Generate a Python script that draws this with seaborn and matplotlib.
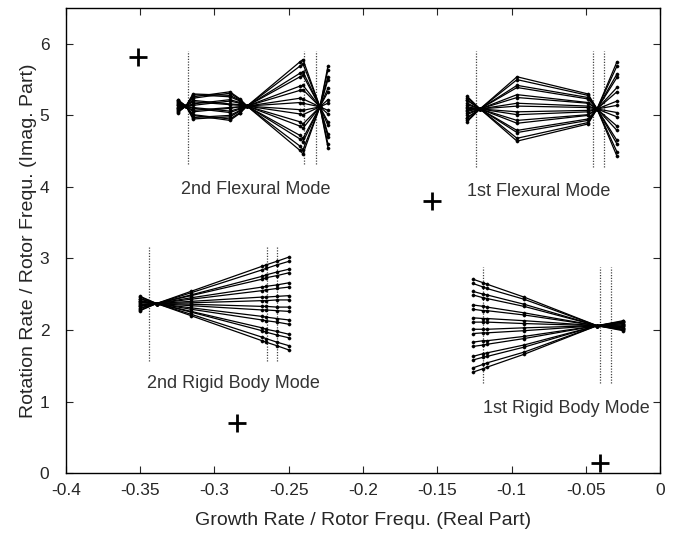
import numpy as np
import pandas as pd
import matplotlib
matplotlib.use("Agg")
import matplotlib.pyplot as plt
import seaborn as sns

# ---------------- data ----------------
# each mode: x positions of the marker columns, and y of every branch at each column
rb1_x = [-0.126, -0.119, -0.1165, -0.0916, -0.0424, -0.0249]
rb1_y = [
    [2.71, 2.65, 2.54, 2.49, 2.35, 2.29, 2.17, 2.11, 2.01, 1.95, 1.83, 1.77, 1.63, 1.58, 1.47, 1.41],
    [2.66, 2.60, 2.50, 2.45, 2.33, 2.27, 2.16, 2.11, 2.01, 1.96, 1.85, 1.79, 1.67, 1.62, 1.52, 1.46],
    [2.64, 2.58, 2.49, 2.44, 2.32, 2.27, 2.16, 2.11, 2.01, 1.96, 1.85, 1.80, 1.68, 1.63, 1.54, 1.48],
    [2.46, 2.43, 2.36, 2.33, 2.24, 2.21, 2.13, 2.09, 2.03, 1.99, 1.91, 1.88, 1.79, 1.76, 1.69, 1.66],
    [2.06, 2.06, 2.06, 2.06, 2.06, 2.06, 2.06, 2.06, 2.06, 2.06, 2.06, 2.06, 2.06, 2.06, 2.06, 2.06],
    [1.99, 2.00, 2.01, 2.01, 2.03, 2.03, 2.05, 2.05, 2.07, 2.07, 2.09, 2.09, 2.11, 2.11, 2.12, 2.13],
]

rb2_x = [-0.350, -0.339, -0.3158, -0.268, -0.2653, -0.258, -0.2498]
rb2_y = [
    [2.27, 2.28, 2.30, 2.31, 2.33, 2.34, 2.35, 2.36, 2.38, 2.39, 2.40, 2.41, 2.43, 2.44, 2.46, 2.47],
    [2.37, 2.37, 2.37, 2.37, 2.37, 2.37, 2.37, 2.37, 2.37, 2.37, 2.37, 2.37, 2.37, 2.37, 2.37, 2.37],
    [2.54, 2.52, 2.49, 2.48, 2.45, 2.43, 2.40, 2.38, 2.36, 2.34, 2.31, 2.29, 2.26, 2.25, 2.22, 2.20],
    [2.89, 2.84, 2.75, 2.71, 2.60, 2.55, 2.46, 2.41, 2.33, 2.28, 2.19, 2.14, 2.03, 1.99, 1.90, 1.85],
    [2.91, 2.86, 2.77, 2.73, 2.61, 2.56, 2.46, 2.41, 2.33, 2.28, 2.18, 2.13, 2.01, 1.97, 1.88, 1.83],
    [2.96, 2.91, 2.81, 2.76, 2.63, 2.58, 2.47, 2.42, 2.32, 2.27, 2.16, 2.11, 1.98, 1.93, 1.83, 1.78],
    [3.02, 2.96, 2.85, 2.80, 2.66, 2.60, 2.48, 2.42, 2.32, 2.26, 2.14, 2.08, 1.94, 1.89, 1.78, 1.72],
]

f1_x = [-0.130, -0.1212, -0.0963, -0.0485, -0.0424, -0.029]
f1_y = [
    [4.91, 4.93, 4.96, 4.97, 5.01, 5.03, 5.06, 5.08, 5.10, 5.12, 5.15, 5.17, 5.21, 5.22, 5.25, 5.27],
    [5.09, 5.09, 5.09, 5.09, 5.09, 5.09, 5.09, 5.09, 5.09, 5.09, 5.09, 5.09, 5.09, 5.09, 5.09, 5.09],
    [5.54, 5.50, 5.42, 5.39, 5.29, 5.25, 5.17, 5.13, 5.05, 5.01, 4.93, 4.89, 4.79, 4.76, 4.68, 4.64],
    [5.30, 5.28, 5.25, 5.23, 5.18, 5.17, 5.13, 5.11, 5.07, 5.05, 5.01, 5.00, 4.95, 4.93, 4.90, 4.88],
    [5.09, 5.09, 5.09, 5.09, 5.09, 5.09, 5.09, 5.09, 5.09, 5.09, 5.09, 5.09, 5.09, 5.09, 5.09, 5.09],
    [4.43, 4.49, 4.60, 4.65, 4.79, 4.85, 4.98, 5.04, 5.14, 5.20, 5.33, 5.39, 5.53, 5.58, 5.69, 5.75],
]

f2_x = [-0.3246, -0.3192, -0.3145, -0.2896, -0.2828, -0.2781, -0.2424, -0.2404, -0.229, -0.2236]
f2_y = [
    [5.04, 5.05, 5.06, 5.07, 5.09, 5.10, 5.11, 5.12, 5.14, 5.15, 5.16, 5.17, 5.19, 5.20, 5.21, 5.22],
    [5.13, 5.13, 5.13, 5.13, 5.13, 5.13, 5.13, 5.13, 5.13, 5.13, 5.13, 5.13, 5.13, 5.13, 5.13, 5.13],
    [5.30, 5.29, 5.26, 5.24, 5.21, 5.19, 5.16, 5.14, 5.11, 5.10, 5.07, 5.05, 5.01, 5.00, 4.97, 4.95],
    [5.28, 5.26, 5.33, 5.31, 5.16, 5.15, 5.22, 5.20, 5.06, 5.04, 5.11, 5.10, 4.95, 4.93, 5.00, 4.98],
    [5.21, 5.20, 5.23, 5.22, 5.15, 5.14, 5.18, 5.17, 5.10, 5.09, 5.12, 5.12, 5.04, 5.03, 5.07, 5.06],
    [5.13, 5.13, 5.13, 5.13, 5.13, 5.13, 5.13, 5.13, 5.13, 5.13, 5.13, 5.13, 5.13, 5.13, 5.13, 5.13],
    [4.67, 4.72, 4.51, 4.57, 5.02, 5.08, 4.85, 4.91, 5.35, 5.41, 5.18, 5.24, 5.69, 5.75, 5.54, 5.59],
    [4.63, 4.68, 4.46, 4.52, 5.01, 5.07, 4.82, 4.88, 5.36, 5.42, 5.17, 5.23, 5.72, 5.78, 5.56, 5.61],
    [5.12, 5.12, 5.12, 5.12, 5.12, 5.12, 5.12, 5.12, 5.12, 5.12, 5.12, 5.12, 5.12, 5.12, 5.12, 5.12],
    [5.54, 5.50, 5.69, 5.64, 5.22, 5.17, 5.38, 5.33, 4.91, 4.86, 5.07, 5.02, 4.60, 4.55, 4.74, 4.70],
]

# dotted reference lines: x positions and y extent per mode
vline_x = {
    "f2": [-0.3178, -0.2397, -0.2317],
    "f1": [-0.1239, -0.0451, -0.0377],
    "rb2": [-0.344, -0.2646, -0.258],
    "rb1": [-0.119, -0.0404, -0.033],
}
vline_span = {
    "f2": (4.32, 5.90),
    "f1": (4.28, 5.90),
    "rb2": (1.56, 3.16),
    "rb1": (1.26, 2.88),
}

# plus markers
plus_x = [-0.3515, -0.1535, -0.2848, -0.0404]
plus_y = [5.81, 3.81, 0.70, 0.14]

# mode labels
label_text = ["2nd Flexural Mode", "1st Flexural Mode", "2nd Rigid Body Mode", "1st Rigid Body Mode"]
label_x = [-0.272, -0.0815, -0.287, -0.0633]
label_y = [3.97, 3.93, 1.25, 0.90]

# ---------------- build table ----------------
rows = []
for mode, xs, ys in [("rb1", rb1_x, rb1_y), ("rb2", rb2_x, rb2_y),
                     ("f1", f1_x, f1_y), ("f2", f2_x, f2_y)]:
    nline = len(ys[0])
    for i in range(nline):
        for j, xv in enumerate(xs):
            rows.append({"branch": f"{mode}_{i}", "order": j, "x": xv, "y": ys[j][i]})
df = pd.DataFrame(rows)

# ---------------- plot ----------------
sns.set_style("ticks")
plt.rcParams["font.family"] = ["Liberation Sans", "DejaVu Sans"]

fig = plt.figure(figsize=(6.78, 5.40), dpi=100)
ax = fig.add_axes([0.0973, 0.124, 0.8762, 0.861])

for key, xs in vline_x.items():
    lo, hi = vline_span[key]
    for xv in xs:
        ax.plot([xv, xv], [lo, hi], linestyle=(0, (1, 1.2)), color="#444444", linewidth=0.9, zorder=1)

sns.lineplot(data=df, x="x", y="y", units="branch", estimator=None, sort=False,
             color="black", linewidth=0.9, marker="o", markersize=2.3,
             markeredgewidth=0.3, markeredgecolor="black", ax=ax, legend=False, zorder=3)

sns.scatterplot(x=plus_x, y=plus_y, marker="+", s=170, linewidth=2.0, color="black", ax=ax, zorder=4)

for t, xv, yv in zip(label_text, label_x, label_y):
    ax.text(xv, yv, t, ha="center", va="center", fontsize=13, color="#333333")

ax.set_xlim(-0.4, 0.0)
ax.set_ylim(0, 6.5)
ax.set_xticks([-0.4, -0.35, -0.3, -0.25, -0.2, -0.15, -0.1, -0.05, 0])
ax.set_xticklabels(["-0.4", "-0.35", "-0.3", "-0.25", "-0.2", "-0.15", "-0.1", "-0.05", "0"])
ax.set_yticks([0, 1, 2, 3, 4, 5, 6])
ax.tick_params(direction="in", top=True, right=True, labelsize=12.5, length=5, width=0.8)
ax.tick_params(axis="x", pad=7)
ax.tick_params(axis="y", pad=12)
for s in ax.spines.values():
    s.set_linewidth(1.0)
    s.set_color("black")
ax.set_xlabel("Growth Rate / Rotor Frequ. (Real Part)", fontsize=14, labelpad=10)
ax.set_ylabel("Rotation Rate / Rotor Frequ. (Imag. Part)", fontsize=14, labelpad=2)

fig.savefig("out.png", dpi=100)
